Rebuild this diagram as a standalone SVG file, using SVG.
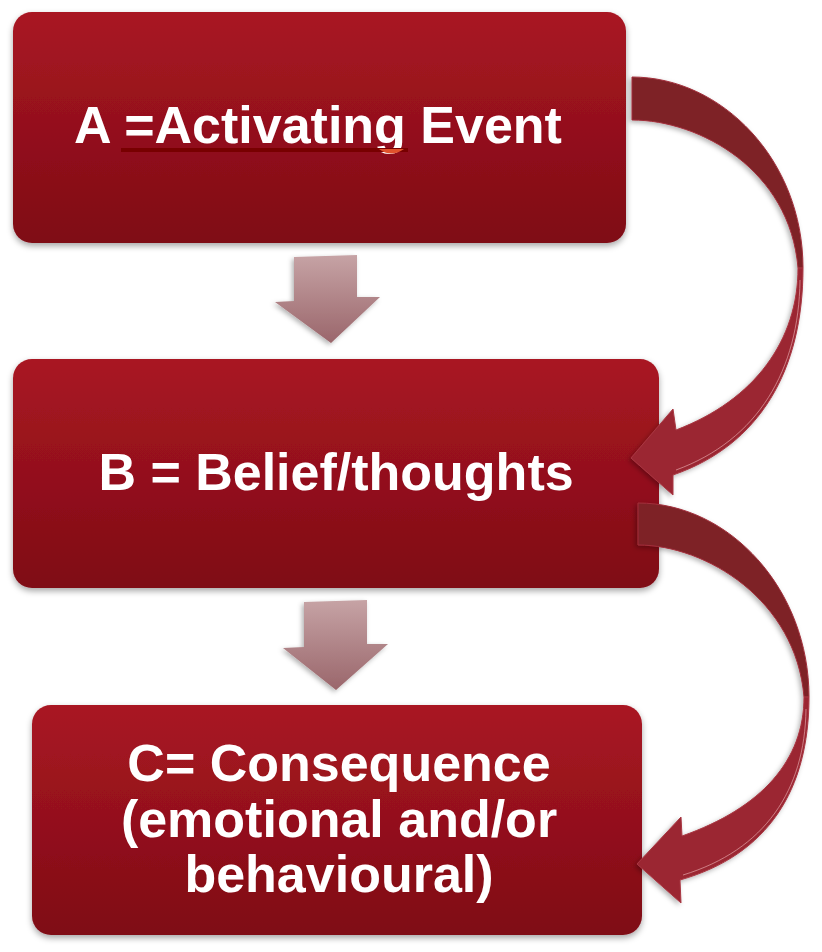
<svg xmlns="http://www.w3.org/2000/svg" width="822" height="952" viewBox="0 0 822 952">
<defs>
<linearGradient id="boxg" x1="0" y1="0" x2="0" y2="1">
<stop offset="0" stop-color="#a91623"/>
<stop offset="1" stop-color="#7f0b15"/>
</linearGradient>
<linearGradient id="downg" x1="0" y1="0" x2="0" y2="1">
<stop offset="0" stop-color="#c6a3a5"/>
<stop offset="1" stop-color="#9a666b"/>
</linearGradient>
<filter id="sh" x="-10%" y="-10%" width="130%" height="130%">
<feDropShadow dx="0" dy="3" stdDeviation="3" flood-color="#000" flood-opacity="0.35"/>
</filter>
<filter id="sh2" x="-20%" y="-20%" width="140%" height="140%">
<feDropShadow dx="-2" dy="2" stdDeviation="2.5" flood-color="#000" flood-opacity="0.3"/>
</filter>
</defs>
<style>
.box{fill:url(#boxg);filter:url(#sh)}
.lbl{font-family:"Liberation Sans",Arial,sans-serif;font-weight:bold;font-size:52px;fill:#fff;text-anchor:middle}
.down{fill:url(#downg);filter:url(#sh2)}
.dark{fill:#7e2128;stroke:#a2303b;stroke-width:1}
.light{fill:#9b2832;stroke:#a93743;stroke-width:1}
.hl{fill:none;stroke:#e3a0a6;stroke-width:1;opacity:0.7}
</style>
<rect width="822" height="952" fill="#fff"/>

<g id="nodeA">
<rect class="box" x="13" y="12" width="613" height="231" rx="19"/>
<text class="lbl" x="318" y="143">A =Activating Event</text>
<line x1="121" y1="150" x2="408" y2="150" stroke="#780000" stroke-width="4"/>
<path d="M379,149 Q391,158 404,149 Z" fill="#e0522c"/>
</g>

<g id="nodeB">
<rect class="box" x="13" y="359" width="646" height="229" rx="19"/>
<text class="lbl" x="336" y="490">B = Belief/thoughts</text>
</g>

<g id="nodeC">
<rect class="box" x="32" y="705" width="610" height="230" rx="19"/>
<text class="lbl" x="339" y="781">C= Consequence</text>
<text class="lbl" x="339" y="837">(emotional and/or</text>
<text class="lbl" x="339" y="892">behavioural)</text>
</g>

<g id="connectors">
<path class="down" d="M294,257 L357,255 L357,297 L380,297 L331,343 L275,302 L294,301 Z"/>
<path class="down" d="M304,602 L367,600 L367,644 L388,644 L336,690 L283,648 L304,647 Z"/>

<g filter="url(#sh2)">
<path class="dark" d="M632,77 C722,77 803,160 803,268 L798,268 C790,170 700,120 632,120 Z"/>
<path class="light" d="M803,268 C803,370 760,445 673,475 L673,495 L631,458 L673,409 L676,430 C755,400 798,340 798,268 Z"/>
<path class="hl" d="M800,280 C799,370 758,440 676,470"/>
</g>

<g filter="url(#sh2)">
<path class="dark" d="M638,503 C730,503 809,590 809,697 L804,697 C796,600 706,545 638,545 Z"/>
<path class="light" d="M809,697 C809,790 768,855 680,880 L681,903 L637,864 L681,817 L682,836 C762,808 804,760 804,697 Z"/>
<path class="hl" d="M806,709 C805,790 765,850 683,875"/>
</g>
</g>
</svg>
